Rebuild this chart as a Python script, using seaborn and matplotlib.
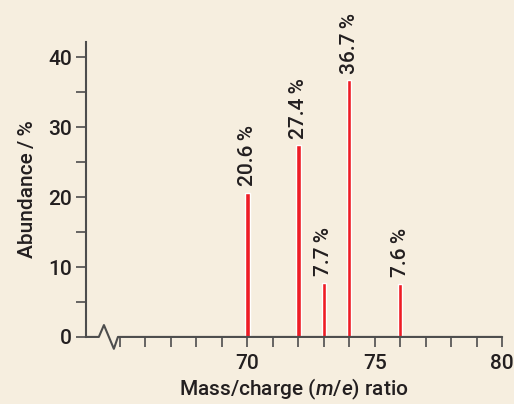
import matplotlib
matplotlib.use("Agg")
import matplotlib.pyplot as plt
import seaborn as sns
import numpy as np

# data
mass = [70, 72, 73, 74, 76]
abundance = [20.6, 27.4, 7.7, 36.7, 7.6]
labels = ["20.6\u2009%", "27.4\u2009%", "7.7\u2009%", "36.7\u2009%", "7.6\u2009%"]
y_major = [0, 10, 20, 30, 40]
x_major = [70, 75, 80]

bg = "#F6EEDF"
red = "#EE1C25"
axcol = "#4D4D4D"
txt = "#231F20"

sns.set_style("white")
plt.rcParams["font.family"] = ["Roboto", "DejaVu Sans"]
plt.rcParams["font.weight"] = "medium"
plt.rcParams["axes.labelweight"] = "medium"
plt.rcParams["mathtext.fontset"] = "custom"
plt.rcParams["mathtext.it"] = "Roboto:italic:medium"
plt.rcParams["mathtext.rm"] = "Roboto:medium"

fig = plt.figure(figsize=(5.14, 4.04), dpi=100, facecolor=bg)
ax = fig.add_axes([0.167, 0.166, 0.81, 0.73])
ax.set_facecolor(bg)

sns.barplot(x=mass, y=abundance, native_scale=True, width=0.17, color=red,
            saturation=1, ax=ax, zorder=3)

for m, a, lab in zip(mass, abundance, labels):
    ax.annotate(lab, (m, a), xytext=(0, 5), textcoords="offset points",
                rotation=90, ha="center", va="bottom", fontsize=15, color=txt,
                annotation_clip=False)

ax.set_xlim(63.66, 80)
ax.set_ylim(0, 42.2)

ax.set_xticks(x_major)
ax.set_xticks(np.arange(65, 80), minor=True)
ax.set_yticks(y_major)
ax.set_yticks([5, 15, 25, 35], minor=True)

for side in ["top", "right", "bottom"]:
    ax.spines[side].set_visible(False)
ax.spines["left"].set_color(axcol)
ax.spines["left"].set_linewidth(1.5)

# x axis line with break mark
bx = [63.66, 64.17, 64.37, 64.76, 64.92, 80]
by = [0, 0, 1.7, -1.7, 0, 0]
ax.plot(bx, by, color=axcol, lw=1.5, clip_on=False, zorder=4)

ax.tick_params(axis="both", which="both", direction="out", length=7, width=1.2,
               color=axcol, labelsize=15, labelcolor=txt, pad=3,
               bottom=True, left=True)
ax.tick_params(axis="x", which="both", pad=5)

ax.set_xlabel("Mass/charge ($\\it{m}$/$\\it{e}$) ratio", fontsize=15, color=txt, labelpad=3)
ax.set_ylabel("Abundance\u2009/\u2009%", fontsize=15, color=txt, labelpad=8)

fig.savefig("out.png", dpi=100, facecolor=bg)
